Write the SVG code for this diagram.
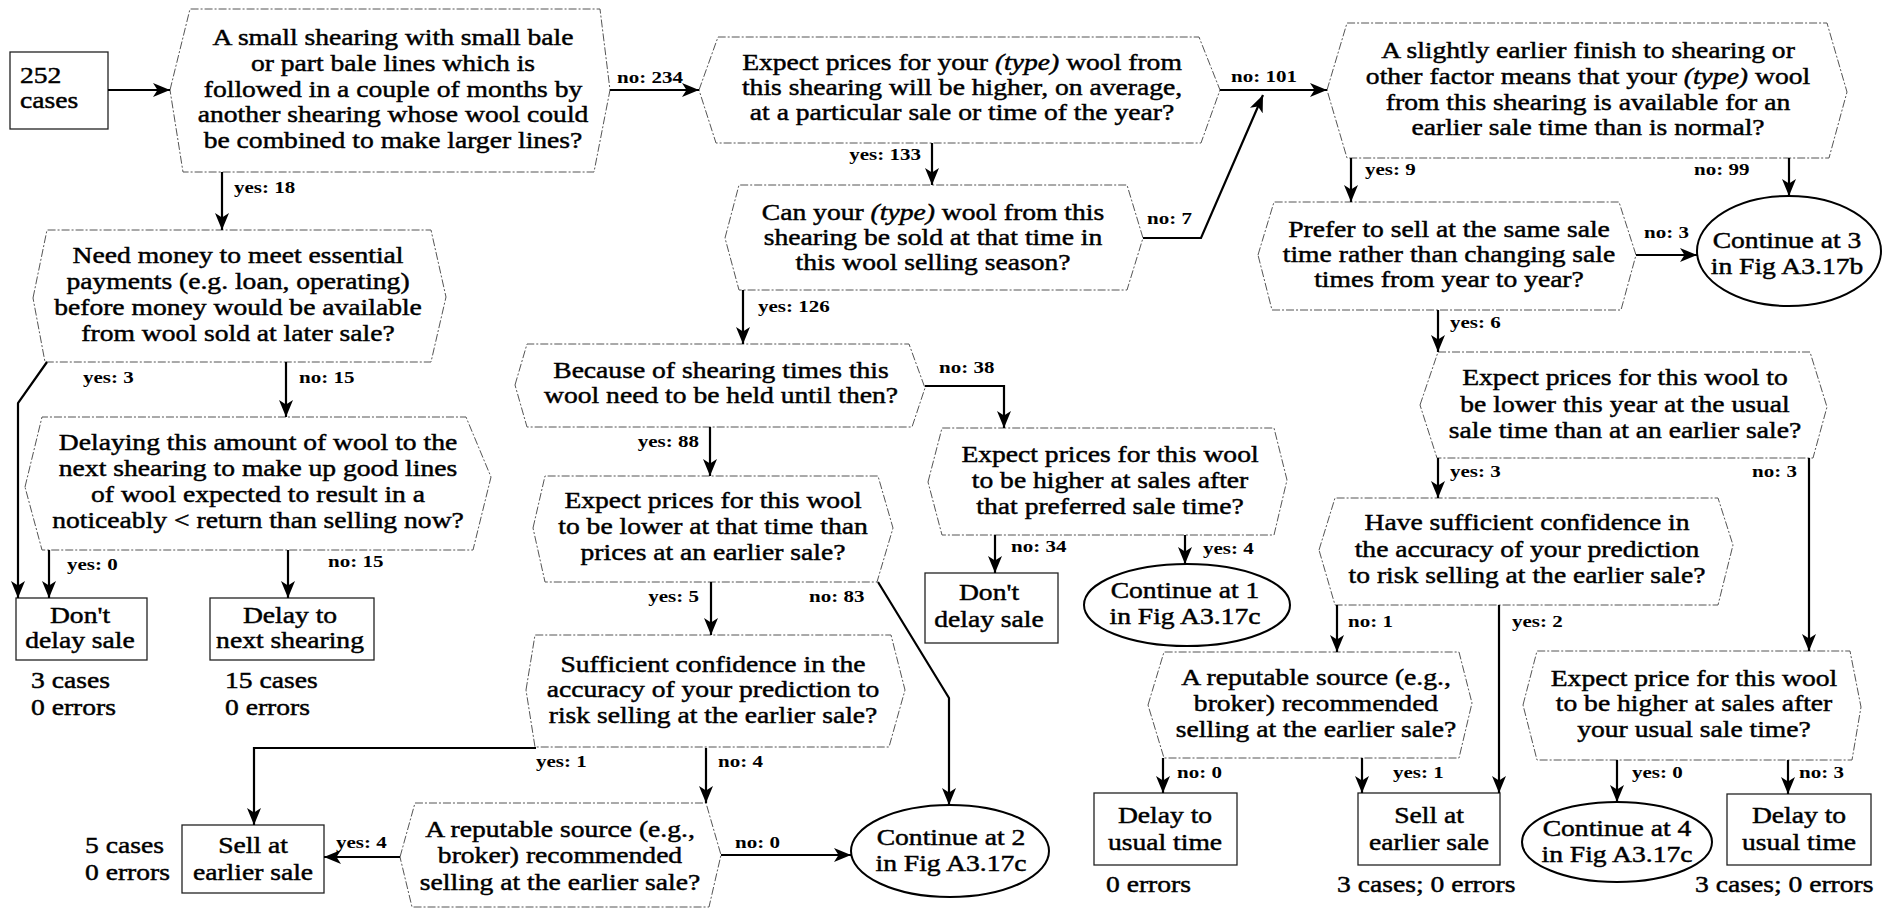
<svg xmlns="http://www.w3.org/2000/svg" width="1883" height="912" viewBox="0 0 1883 912">
<defs>
<style>
.t { font-family: "Liberation Serif", "Times New Roman", serif; font-size: 23px; fill: #000; stroke: #000; stroke-width: 0.45; text-anchor: middle; }
.l { font-family: "Liberation Serif", "Times New Roman", serif; font-size: 17.5px; font-weight: bold; fill: #000; text-anchor: middle; }
.s { text-anchor: start; }
.e { text-anchor: end; }
.hex { fill: #fff; stroke: #555; stroke-width: 1; stroke-dasharray: 8 2 2 2; }
.box { fill: #fff; stroke: #222; stroke-width: 1.3; }
.ell { fill: #fff; stroke: #000; stroke-width: 2; }
.c { fill: none; stroke: #000; stroke-width: 2.2; marker-end: url(#ah); }
</style>
<marker id="ah" viewBox="0 0 17 14" refX="17" refY="7" markerWidth="17" markerHeight="14" orient="auto" markerUnits="userSpaceOnUse">
<path d="M0,0 L17,7 L0,14 L4.5,7 Z" fill="#000"/>
</marker>
</defs>
<rect width="1883" height="912" fill="#fff"/>

<g id="start">
<rect class="box" x="10" y="52" width="98" height="77"/>
<text class="t s" transform="matrix(1.2 0 0 1 20 0)"><tspan x="0" y="83">252</tspan><tspan x="0" y="108">cases</tspan></text>
</g>

<g id="q1">
<polygon class="hex" points="170,90 190,9 600,9 610,90 594,172 183,172"/>
<text class="t" transform="matrix(1.2 0 0 1 393 0)"><tspan x="0" y="45">A small shearing with small bale</tspan><tspan x="0" y="71">or part bale lines which is</tspan><tspan x="0" y="97">followed in a couple of months by</tspan><tspan x="0" y="122">another shearing whose wool could</tspan><tspan x="0" y="148">be combined to make larger lines?</tspan></text>
</g>

<g id="q2">
<polygon class="hex" points="699,90 718,37 1199,37 1220,90 1201,143 716,143"/>
<text class="t" transform="matrix(1.2 0 0 1 962 0)"><tspan x="0" y="70">Expect prices for your <tspan font-style="italic">(type)</tspan> wool from</tspan><tspan x="0" y="95">this shearing will be higher, on average,</tspan><tspan x="0" y="120">at a particular sale or time of the year?</tspan></text>
</g>

<g id="q3">
<polygon class="hex" points="1327,90 1347,23 1827,23 1847,92 1829,158 1347,158"/>
<text class="t" transform="matrix(1.2 0 0 1 1588 0)"><tspan x="0" y="58">A slightly earlier finish to shearing or</tspan><tspan x="0" y="84">other factor means that your <tspan font-style="italic">(type)</tspan> wool</tspan><tspan x="0" y="110">from this shearing is available for an</tspan><tspan x="0" y="135">earlier sale time than is normal?</tspan></text>
</g>

<g id="q4">
<polygon class="hex" points="33,298 47,230 431,230 446,297 431,362 45,362"/>
<text class="t" transform="matrix(1.2 0 0 1 238 0)"><tspan x="0" y="263">Need money to meet essential</tspan><tspan x="0" y="289">payments (e.g. loan, operating)</tspan><tspan x="0" y="315">before money would be available</tspan><tspan x="0" y="341">from wool sold at later sale?</tspan></text>
</g>

<g id="q5">
<polygon class="hex" points="25,487 42,417 466,417 491,477 473,550 42,550"/>
<text class="t" transform="matrix(1.2 0 0 1 258 0)"><tspan x="0" y="450">Delaying this amount of wool to the</tspan><tspan x="0" y="476">next shearing to make up good lines</tspan><tspan x="0" y="502">of wool expected to result in a</tspan><tspan x="0" y="528">noticeably &lt; return than selling now?</tspan></text>
</g>

<g id="r1">
<rect class="box" x="16" y="598" width="131" height="62"/>
<text class="t" transform="matrix(1.2 0 0 1 80 0)"><tspan x="0" y="623">Don't</tspan><tspan x="0" y="648">delay sale</tspan></text>
<text class="t s" transform="matrix(1.2 0 0 1 31 0)"><tspan x="0" y="688">3 cases</tspan><tspan x="0" y="715">0 errors</tspan></text>
</g>

<g id="r2">
<rect class="box" x="210" y="598" width="164" height="62"/>
<text class="t" transform="matrix(1.2 0 0 1 290 0)"><tspan x="0" y="623">Delay to</tspan><tspan x="0" y="648">next shearing</tspan></text>
<text class="t s" transform="matrix(1.2 0 0 1 225 0)"><tspan x="0" y="688">15 cases</tspan><tspan x="0" y="715">0 errors</tspan></text>
</g>

<g id="q6">
<polygon class="hex" points="725,238 739,185 1127,185 1143,238 1127,290 739,290"/>
<text class="t" transform="matrix(1.2 0 0 1 933 0)"><tspan x="0" y="220">Can your <tspan font-style="italic">(type)</tspan> wool from this</tspan><tspan x="0" y="245">shearing be sold at that time in</tspan><tspan x="0" y="270">this wool selling season?</tspan></text>
</g>

<g id="q7">
<polygon class="hex" points="515,385 527,344 909,344 925,388 912,427 527,427"/>
<text class="t" transform="matrix(1.2 0 0 1 721 0)"><tspan x="0" y="378">Because of shearing times this</tspan><tspan x="0" y="403">wool need to be held until then?</tspan></text>
</g>

<g id="q8">
<polygon class="hex" points="533,528 545,476 878,476 893,528 877,582 545,582"/>
<text class="t" transform="matrix(1.2 0 0 1 713 0)"><tspan x="0" y="508">Expect prices for this wool</tspan><tspan x="0" y="534">to be lower at that time than</tspan><tspan x="0" y="560">prices at an earlier sale?</tspan></text>
</g>

<g id="q9">
<polygon class="hex" points="526,690 535,635 891,635 905,690 889,747 535,747"/>
<text class="t" transform="matrix(1.2 0 0 1 713 0)"><tspan x="0" y="672">Sufficient confidence in the</tspan><tspan x="0" y="697">accuracy of your prediction to</tspan><tspan x="0" y="723">risk selling at the earlier sale?</tspan></text>
</g>

<g id="r3">
<rect class="box" x="182" y="825" width="142" height="68"/>
<text class="t" transform="matrix(1.2 0 0 1 253 0)"><tspan x="0" y="853">Sell at</tspan><tspan x="0" y="880">earlier sale</tspan></text>
<text class="t s" transform="matrix(1.2 0 0 1 85 0)"><tspan x="0" y="853">5 cases</tspan><tspan x="0" y="880">0 errors</tspan></text>
</g>

<g id="q10">
<polygon class="hex" points="400,857 415,803 706,803 721,855 709,907 412,907"/>
<text class="t" transform="matrix(1.2 0 0 1 560 0)"><tspan x="0" y="837">A reputable source (e.g.,</tspan><tspan x="0" y="863">broker) recommended</tspan><tspan x="0" y="890">selling at the earlier sale?</tspan></text>
</g>

<g id="e2">
<ellipse class="ell" cx="950" cy="851" rx="99" ry="46"/>
<text class="t" transform="matrix(1.2 0 0 1 951 0)"><tspan x="0" y="845">Continue at 2</tspan><tspan x="0" y="871">in Fig A3.17c</tspan></text>
</g>

<g id="q11">
<polygon class="hex" points="928,482 942,428 1274,428 1287,480 1274,535 942,535"/>
<text class="t" transform="matrix(1.2 0 0 1 1110 0)"><tspan x="0" y="462">Expect prices for this wool</tspan><tspan x="0" y="488">to be higher at sales after</tspan><tspan x="0" y="514">that preferred sale time?</tspan></text>
</g>

<g id="r4">
<rect class="box" x="925" y="573" width="133" height="70"/>
<text class="t" transform="matrix(1.2 0 0 1 989 0)"><tspan x="0" y="600">Don't</tspan><tspan x="0" y="627">delay sale</tspan></text>
</g>

<g id="e1">
<ellipse class="ell" cx="1187" cy="605" rx="103" ry="41"/>
<text class="t" transform="matrix(1.2 0 0 1 1185 0)"><tspan x="0" y="598">Continue at 1</tspan><tspan x="0" y="624">in Fig A3.17c</tspan></text>
</g>

<g id="q12">
<polygon class="hex" points="1258,255 1274,202 1619,202 1636,255 1621,310 1272,310"/>
<text class="t" transform="matrix(1.2 0 0 1 1449 0)"><tspan x="0" y="237">Prefer to sell at the same sale</tspan><tspan x="0" y="262">time rather than changing sale</tspan><tspan x="0" y="287">times from year to year?</tspan></text>
</g>

<g id="e3">
<ellipse class="ell" cx="1789" cy="251" rx="92" ry="55"/>
<text class="t" transform="matrix(1.2 0 0 1 1787 0)"><tspan x="0" y="248">Continue at 3</tspan><tspan x="0" y="274">in Fig A3.17b</tspan></text>
</g>

<g id="q13">
<polygon class="hex" points="1420,405 1438,352 1810,352 1827,407 1813,458 1437,458"/>
<text class="t" transform="matrix(1.2 0 0 1 1625 0)"><tspan x="0" y="385">Expect prices for this wool to</tspan><tspan x="0" y="412">be lower this year at the usual</tspan><tspan x="0" y="438">sale time than at an earlier sale?</tspan></text>
</g>

<g id="q14">
<polygon class="hex" points="1319,550 1335,498 1718,498 1733,545 1718,605 1335,605"/>
<text class="t" transform="matrix(1.2 0 0 1 1527 0)"><tspan x="0" y="530">Have sufficient confidence in</tspan><tspan x="0" y="557">the accuracy of your prediction</tspan><tspan x="0" y="583">to risk selling at the earlier sale?</tspan></text>
</g>

<g id="q15">
<polygon class="hex" points="1148,705 1164,652 1459,652 1472,703 1459,758 1164,758"/>
<text class="t" transform="matrix(1.2 0 0 1 1316 0)"><tspan x="0" y="685">A reputable source (e.g.,</tspan><tspan x="0" y="711">broker) recommended</tspan><tspan x="0" y="737">selling at the earlier sale?</tspan></text>
</g>

<g id="r5">
<rect class="box" x="1094" y="793" width="143" height="72"/>
<text class="t" transform="matrix(1.2 0 0 1 1165 0)"><tspan x="0" y="823">Delay to</tspan><tspan x="0" y="850">usual time</tspan></text>
<text class="t s" transform="matrix(1.2 0 0 1 1106 0)"><tspan x="0" y="892">0 errors</tspan></text>
</g>

<g id="r6">
<rect class="box" x="1358" y="793" width="142" height="72"/>
<text class="t" transform="matrix(1.2 0 0 1 1429 0)"><tspan x="0" y="823">Sell at</tspan><tspan x="0" y="850">earlier sale</tspan></text>
<text class="t s" transform="matrix(1.2 0 0 1 1337 0)"><tspan x="0" y="892">3 cases; 0 errors</tspan></text>
</g>

<g id="q16">
<polygon class="hex" points="1523,705 1537,651 1850,651 1861,707 1852,760 1537,760"/>
<text class="t" transform="matrix(1.2 0 0 1 1694 0)"><tspan x="0" y="686">Expect price for this wool</tspan><tspan x="0" y="711">to be higher at sales after</tspan><tspan x="0" y="737">your usual sale time?</tspan></text>
</g>

<g id="e4">
<ellipse class="ell" cx="1617" cy="842" rx="95" ry="40"/>
<text class="t" transform="matrix(1.2 0 0 1 1617 0)"><tspan x="0" y="836">Continue at 4</tspan><tspan x="0" y="862">in Fig A3.17c</tspan></text>
</g>

<g id="r7">
<rect class="box" x="1727" y="794" width="144" height="71"/>
<text class="t" transform="matrix(1.2 0 0 1 1799 0)"><tspan x="0" y="823">Delay to</tspan><tspan x="0" y="850">usual time</tspan></text>
<text class="t s" transform="matrix(1.2 0 0 1 1695 0)"><tspan x="0" y="892">3 cases; 0 errors</tspan></text>
</g>

<g id="connectors">
<path class="c" d="M108,90 H170"/>
<path class="c" d="M610,90 H699"/>
<path class="c" d="M1220,90 H1327"/>
<path class="c" d="M222,172 V230"/>
<path class="c" d="M932,143 V185"/>
<path class="c" d="M1143,238 H1201 L1263,95"/>
<path class="c" d="M743,290 V344"/>
<path class="c" d="M925,386 H1004 V428"/>
<path class="c" d="M710,427 V476"/>
<path class="c" d="M711,582 V635"/>
<path class="c" d="M878,582 L949,698 V805"/>
<path class="c" d="M536,748 H254 V825"/>
<path class="c" d="M706,748 V803"/>
<path class="c" d="M400,857 H324"/>
<path class="c" d="M721,855 H851"/>
<path class="c" d="M47,362 L18,403 V598"/>
<path class="c" d="M286,362 V417"/>
<path class="c" d="M49,550 V598"/>
<path class="c" d="M288,550 V598"/>
<path class="c" d="M995,535 V573"/>
<path class="c" d="M1185,535 V564"/>
<path class="c" d="M1351,158 V202"/>
<path class="c" d="M1789,158 V196"/>
<path class="c" d="M1636,255 H1697"/>
<path class="c" d="M1438,310 V352"/>
<path class="c" d="M1438,458 V498"/>
<path class="c" d="M1809,458 V651"/>
<path class="c" d="M1337,605 V652"/>
<path class="c" d="M1499,605 V793"/>
<path class="c" d="M1163,758 V793"/>
<path class="c" d="M1362,758 V793"/>
<path class="c" d="M1617,760 V802"/>
<path class="c" d="M1788,760 V794"/>

<text class="l" transform="matrix(1.2 0 0 1 650 0)" y="83">no: 234</text>
<text class="l" transform="matrix(1.2 0 0 1 1264 0)" y="82">no: 101</text>
<text class="l s" transform="matrix(1.2 0 0 1 234 0)" y="193">yes: 18</text>
<text class="l e" transform="matrix(1.2 0 0 1 921 0)" y="160">yes: 133</text>
<text class="l s" transform="matrix(1.2 0 0 1 1147 0)" y="224">no: 7</text>
<text class="l s" transform="matrix(1.2 0 0 1 758 0)" y="312">yes: 126</text>
<text class="l s" transform="matrix(1.2 0 0 1 939 0)" y="373">no: 38</text>
<text class="l e" transform="matrix(1.2 0 0 1 699 0)" y="447">yes: 88</text>
<text class="l e" transform="matrix(1.2 0 0 1 699 0)" y="602">yes: 5</text>
<text class="l s" transform="matrix(1.2 0 0 1 809 0)" y="602">no: 83</text>
<text class="l s" transform="matrix(1.2 0 0 1 536 0)" y="767">yes: 1</text>
<text class="l s" transform="matrix(1.2 0 0 1 718 0)" y="767">no: 4</text>
<text class="l s" transform="matrix(1.2 0 0 1 336 0)" y="848">yes: 4</text>
<text class="l s" transform="matrix(1.2 0 0 1 735 0)" y="848">no: 0</text>
<text class="l s" transform="matrix(1.2 0 0 1 83 0)" y="383">yes: 3</text>
<text class="l s" transform="matrix(1.2 0 0 1 299 0)" y="383">no: 15</text>
<text class="l s" transform="matrix(1.2 0 0 1 67 0)" y="570">yes: 0</text>
<text class="l s" transform="matrix(1.2 0 0 1 328 0)" y="567">no: 15</text>
<text class="l s" transform="matrix(1.2 0 0 1 1011 0)" y="552">no: 34</text>
<text class="l s" transform="matrix(1.2 0 0 1 1203 0)" y="554">yes: 4</text>
<text class="l s" transform="matrix(1.2 0 0 1 1365 0)" y="175">yes: 9</text>
<text class="l s" transform="matrix(1.2 0 0 1 1694 0)" y="175">no: 99</text>
<text class="l s" transform="matrix(1.2 0 0 1 1644 0)" y="238">no: 3</text>
<text class="l s" transform="matrix(1.2 0 0 1 1450 0)" y="328">yes: 6</text>
<text class="l s" transform="matrix(1.2 0 0 1 1450 0)" y="477">yes: 3</text>
<text class="l s" transform="matrix(1.2 0 0 1 1752 0)" y="477">no: 3</text>
<text class="l s" transform="matrix(1.2 0 0 1 1348 0)" y="627">no: 1</text>
<text class="l s" transform="matrix(1.2 0 0 1 1512 0)" y="627">yes: 2</text>
<text class="l s" transform="matrix(1.2 0 0 1 1177 0)" y="778">no: 0</text>
<text class="l s" transform="matrix(1.2 0 0 1 1393 0)" y="778">yes: 1</text>
<text class="l s" transform="matrix(1.2 0 0 1 1632 0)" y="778">yes: 0</text>
<text class="l s" transform="matrix(1.2 0 0 1 1799 0)" y="778">no: 3</text>
</g>
</svg>
